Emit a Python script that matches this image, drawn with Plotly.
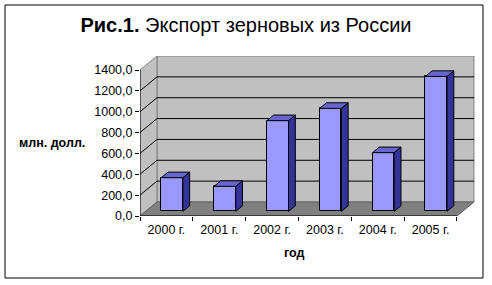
import plotly.graph_objects as go

# ---- data ----
years = ["2000 г.", "2001 г.", "2002 г.", "2003 г.", "2004 г.", "2005 г."]
values = [323, 240, 870, 988, 563, 1294]
y_ticks = [0, 200, 400, 600, 800, 1000, 1200, 1400]
y_ticktext = ["0,0", "200,0", "400,0", "600,0", "800,0", "1000,0", "1200,0", "1400,0"]

# ---- style / geometry constants ----
FONT = "Liberation Sans, Arial, sans-serif"
FRONT = "#9999FF"
SIDE = "#333399"
TOP = "#6666CC"
WALL = "#C0C0C0"
FLOOR = "#808080"

W, H = 492, 285
ML, MR, MT, MB = 140, 17, 56, 69
pw, ph = W - ML - MR, H - MT - MB
cat_px = 52.83
xr = [-0.5, -0.5 + pw / cat_px]
ymax_front = 1400
px_per_unit = 146 / 1400
yr = [0, ph / px_per_unit]
DX = 17 / cat_px              # depth offset in x units
DY = yr[1] - ymax_front       # depth offset in y units
f0, fd = 0.33, 0.40           # bar front depth fraction, bar depth fraction
bw = 0.41

n = len(years)
xl, xrr = -0.5, n - 0.5

fig = go.Figure()

# front faces of bars
fig.add_trace(go.Bar(
    x=[i + f0 * DX for i in range(n)], y=values, base=f0 * DY, width=bw,
    marker=dict(color=FRONT, line=dict(color="black", width=1)),
    hoverinfo="skip", showlegend=False))

# side and top faces computed from data
for i, v in enumerate(values):
    x0 = i + f0 * DX - bw / 2
    x1 = i + f0 * DX + bw / 2
    yb = f0 * DY
    ddx, ddy = fd * DX, fd * DY
    fig.add_trace(go.Scatter(
        x=[x1, x1 + ddx, x1 + ddx, x1, x1],
        y=[yb, yb + ddy, yb + v + ddy, yb + v, yb],
        fill="toself", fillcolor=SIDE, mode="lines",
        line=dict(color="black", width=1), hoverinfo="skip", showlegend=False))
    fig.add_trace(go.Scatter(
        x=[x0, x1, x1 + ddx, x0 + ddx, x0],
        y=[yb + v, yb + v, yb + v + ddy, yb + v + ddy, yb + v],
        fill="toself", fillcolor=TOP, mode="lines",
        line=dict(color="black", width=1), hoverinfo="skip", showlegend=False))

# invisible trace for the label axis
fig.add_trace(go.Scatter(x=[0], y=[0], xaxis="x2", mode="markers",
                         marker=dict(opacity=0), hoverinfo="skip", showlegend=False))

shapes = []
# back wall
shapes.append(dict(type="rect", xref="x", yref="y", layer="below",
                   x0=xl + DX, x1=xrr + DX, y0=DY, y1=ymax_front + DY,
                   fillcolor=WALL, line=dict(color="#808080", width=1)))
# left wall
shapes.append(dict(type="path", xref="x", yref="y", layer="below",
                   path=f"M{xl},0 L{xl},{ymax_front} L{xl+DX},{ymax_front+DY} L{xl+DX},{DY} Z",
                   fillcolor=WALL, line=dict(color="#808080", width=1)))
# floor
shapes.append(dict(type="path", xref="x", yref="y", layer="below",
                   path=f"M{xl},0 L{xrr},0 L{xrr+DX},{DY} L{xl+DX},{DY} Z",
                   fillcolor=FLOOR, line=dict(color="#606060", width=1)))
# gridlines
for t in y_ticks[1:-1]:
    shapes.append(dict(type="path", xref="x", yref="y", layer="below",
                       path=f"M{xl},{t} L{xl+DX},{t+DY} L{xrr+DX},{t+DY}",
                       line=dict(color="black", width=1)))
# axis lines
shapes.append(dict(type="line", xref="x", yref="y", x0=xl, x1=xl, y0=0, y1=ymax_front,
                   line=dict(color="black", width=1)))
shapes.append(dict(type="line", xref="x", yref="y", x0=xl, x1=xrr, y0=0, y1=0,
                   line=dict(color="black", width=1)))
# outer border
shapes.append(dict(type="rect", xref="paper", yref="paper",
                   x0=(5 - ML) / pw, x1=(483 - ML) / pw,
                   y0=(H - MB - 278) / ph, y1=(H - MB - 5) / ph,
                   line=dict(color="black", width=1), fillcolor="rgba(0,0,0,0)"))

fig.update_layout(
    width=W, height=H,
    margin=dict(l=ML, r=MR, t=MT, b=MB, pad=0),
    paper_bgcolor="white", plot_bgcolor="white",
    font=dict(family=FONT, size=12.5, color="black"),
    title=dict(text="<b>Рис.1.</b> Экспорт зерновых из России",
               x=246 / W, xanchor="center", xref="container",
               y=1 - 25 / H, yanchor="middle", yref="container",
               font=dict(family=FONT, size=20, color="black")),
    xaxis=dict(range=xr, showgrid=False, zeroline=False, showline=False,
               tickvals=[xl + k for k in range(n + 1)], ticktext=[""] * (n + 1),
               ticks="outside", ticklen=4, tickcolor="black", fixedrange=True),
    xaxis2=dict(range=xr, overlaying="x", anchor="y", side="bottom",
                showgrid=False, zeroline=False, showline=False,
                tickvals=list(range(n)), ticktext=years,
                ticks="outside", ticklen=2, tickcolor="rgba(0,0,0,0)",
                tickfont=dict(family=FONT, size=12.5, color="black")),
    yaxis=dict(range=yr, showgrid=False, zeroline=False, showline=False,
               tickvals=y_ticks, ticktext=y_ticktext,
               ticks="outside", ticklen=4, tickcolor="black",
               tickfont=dict(family=FONT, size=12.5, color="black")),
    shapes=shapes,
    annotations=[
        dict(text="<b>млн. долл.</b>", xref="paper", yref="paper",
             x=(52 - ML) / pw, y=(H - MB - 143) / ph, showarrow=False,
             xanchor="center", yanchor="middle",
             font=dict(family=FONT, size=12.5, color="black")),
        dict(text="<b>год</b>", xref="paper", yref="paper",
             x=(294 - ML) / pw, y=(H - MB - 253) / ph, showarrow=False,
             xanchor="center", yanchor="middle",
             font=dict(family=FONT, size=12.5, color="black")),
    ],
    bargap=0,
)

fig.write_html("out.html")
